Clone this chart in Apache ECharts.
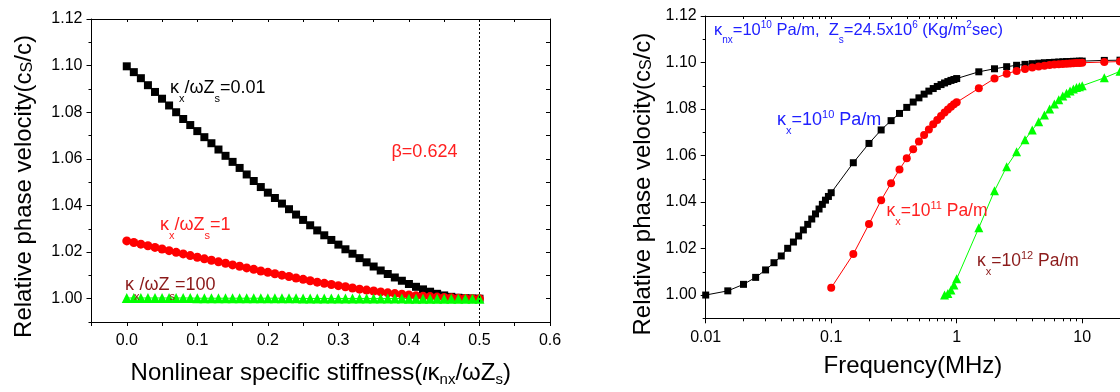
<!DOCTYPE html>
<html><head><meta charset="utf-8">
<script src="https://cdn.jsdelivr.net/npm/echarts@6/dist/echarts.min.js"></script>
<style>html,body{margin:0;padding:0;background:#fff;overflow:hidden}#c{width:1120px;height:392px}</style>
</head><body><div id="c"></div>
<script>
// ---------- left panel data ----------
const stiffness = [0.00,0.01,0.02,0.03,0.04,0.05,0.06,0.07,0.08,0.09,0.10,0.11,0.12,0.13,0.14,0.15,0.16,0.17,0.18,0.19,0.20,0.21,0.22,0.23,0.24,0.25,0.26,0.27,0.28,0.29,0.30,0.31,0.32,0.33,0.34,0.35,0.36,0.37,0.38,0.39,0.40,0.41,0.42,0.43,0.44,0.45,0.46,0.47,0.48,0.49,0.50];
const velRatio001 = [1.0997,1.0972,1.0946,1.0916,1.0887,1.0858,1.0829,1.0800,1.0771,1.0745,1.0719,1.0693,1.0667,1.0640,1.0613,1.0587,1.0561,1.0533,1.0505,1.0479,1.0455,1.0432,1.0408,1.0384,1.0361,1.0338,1.0315,1.0293,1.0272,1.0252,1.0232,1.0212,1.0193,1.0174,1.0156,1.0138,1.0121,1.0106,1.0091,1.0077,1.0063,1.0051,1.0040,1.0030,1.0021,1.0014,1.0008,1.0004,1.0002,1.0001,1.0000];
const velRatio1 = [1.0248,1.0241,1.0234,1.0227,1.0220,1.0213,1.0206,1.0199,1.0192,1.0185,1.0178,1.0171,1.0165,1.0158,1.0152,1.0145,1.0139,1.0132,1.0126,1.0119,1.0113,1.0107,1.0101,1.0095,1.0089,1.0083,1.0077,1.0071,1.0066,1.0061,1.0056,1.0051,1.0046,1.0041,1.0037,1.0033,1.0029,1.0025,1.0022,1.0019,1.0016,1.0013,1.0011,1.0009,1.0007,1.0005,1.0004,1.0002,1.0001,1.0000,1.0000];
const velRatio100 = [1.0003,1.0003,1.0003,1.0003,1.0003,1.0003,1.0003,1.0003,1.0003,1.0003,1.0002,1.0002,1.0002,1.0002,1.0002,1.0002,1.0002,1.0002,1.0002,1.0002,1.0002,1.0002,1.0002,1.0002,1.0002,1.0001,1.0001,1.0001,1.0001,1.0001,1.0001,1.0001,1.0001,1.0001,1.0001,1.0001,1.0001,1.0001,1.0001,1.0001,1.0000,1.0000,1.0000,1.0000,1.0000,1.0000,1.0000,1.0000,1.0000,1.0000,1.0000];
const stiffTicks = [0.0,0.1,0.2,0.3,0.4,0.5,0.6];
const velTicks = [1.00,1.02,1.04,1.06,1.08,1.10,1.12];
const velMinorTicks = [0.99,1.01,1.03,1.05,1.07,1.09,1.11];

// ---------- right panel data ----------
const freqK10 = [0.01,0.015,0.02,0.025,0.03,0.035,0.04,0.045,0.05,0.055,0.06,0.065,0.07,0.075,0.08,0.085,0.09,0.095,0.1,0.15,0.2,0.25,0.3,0.35,0.4,0.45,0.5,0.55,0.6,0.65,0.7,0.75,0.8,0.85,0.9,0.95,1.0,1.5,2,2.5,3,3.5,4,4.5,5,5.5,6,6.5,7,7.5,8,8.5,9,9.5,10,15,20];
const velK10 = [1.0000,1.0018,1.0046,1.0076,1.0108,1.0139,1.0168,1.0201,1.0228,1.0254,1.0280,1.0304,1.0327,1.0349,1.0370,1.0390,1.0408,1.0424,1.0440,1.0569,1.0652,1.0710,1.0750,1.0781,1.0807,1.0830,1.0848,1.0864,1.0877,1.0888,1.0897,1.0905,1.0912,1.0918,1.0923,1.0927,1.0931,1.0960,1.0973,1.0982,1.0988,1.0992,1.0995,1.0997,1.0999,1.1000,1.1001,1.1002,1.1003,1.1004,1.1004,1.1005,1.1005,1.1006,1.1006,1.1009,1.1010];
const freqK11 = [0.1,0.15,0.2,0.25,0.3,0.35,0.4,0.45,0.5,0.55,0.6,0.65,0.7,0.75,0.8,0.85,0.9,0.95,1.0,1.5,2,2.5,3,3.5,4,4.5,5,5.5,6,6.5,7,7.5,8,8.5,9,9.5,10,15,20];
const velK11 = [1.0031,1.0176,1.0305,1.0408,1.0481,1.0540,1.0588,1.0627,1.0660,1.0688,1.0712,1.0734,1.0753,1.0770,1.0785,1.0798,1.0810,1.0820,1.0829,1.0889,1.0931,1.0952,1.0964,1.0972,1.0978,1.0983,1.0986,1.0989,1.0991,1.0993,1.0994,1.0995,1.0996,1.0997,1.0998,1.0998,1.0999,1.1002,1.1004];
const freqK12 = [0.8,0.85,0.9,0.95,1.0,1.5,2,2.5,3,3.5,4,4.5,5,5.5,6,6.5,7,7.5,8,8.5,9,9.5,10,15,20];
const velK12 = [1.0000,1.0007,1.0022,1.0043,1.0070,1.0289,1.0448,1.0552,1.0616,1.0668,1.0710,1.0745,1.0774,1.0800,1.0822,1.0840,1.0856,1.0868,1.0878,1.0886,1.0892,1.0896,1.0900,1.0934,1.0962];
const freqTicks = [0.01,0.1,1,10];
const freqMinorTicks = [0.02,0.03,0.04,0.05,0.06,0.07,0.08,0.09,0.2,0.3,0.4,0.5,0.6,0.7,0.8,0.9,2,3,4,5,6,7,8,9,20];

const FONT = '"Liberation Sans", Arial, sans-serif';
const zip = (a, b) => a.map((v, i) => [v, b[i]]);
const line = { onZero: false, lineStyle: { color: '#000', width: 1 } };
const noLine = { show: false, onZero: false };
const noSplit = { show: false };

const nameRich = {
  a: { fontSize: 24, fontFamily: FONT, color: '#000' },
  i: { fontSize: 24, fontFamily: FONT, color: '#000', fontStyle: 'italic' },
  sb: { fontSize: 15, fontFamily: FONT, color: '#000', padding: [12, 0, 0, 0] },
  sbs: { fontSize: 16, fontFamily: FONT, color: '#000', padding: [6, 0, 0, 0] }
};
const yName = '{a|Relative phase velocity(c}{sbs|S}{a|/c)}';

function yAxesFor(gridIndex, withRight) {
  const axes = [
    { gridIndex, type: 'value', position: 'left', min: 0.99, max: 1.12,
      axisLine: line, splitLine: noSplit,
      axisTick: { show: true, inside: false, length: 5, lineStyle: { color: '#000' }, customValues: velTicks },
      axisLabel: { customValues: velTicks, margin: 9, fontSize: 16, fontFamily: FONT, color: '#000', formatter: v => v.toFixed(2) },
      name: yName, nameLocation: 'middle', nameRotate: 90,
      nameGap: gridIndex === 0 ? 55 : 50,
      nameTextStyle: { rich: nameRich, padding: [0, gridIndex === 0 ? 32 : 34, 0, 0] } },
    { gridIndex, type: 'value', position: 'left', min: 0.99, max: 1.12,
      axisLine: noLine, splitLine: noSplit, axisLabel: { show: false },
      axisTick: { show: true, inside: false, length: 3, lineStyle: { color: '#000' }, customValues: velMinorTicks } }
  ];
  if (withRight) axes.push({ gridIndex, type: 'value', position: 'right', min: 0.99, max: 1.12, interval: 0.01,
      axisLine: line, splitLine: noSplit, axisLabel: { show: false },
      axisTick: { show: true, inside: true, length: 4, lineStyle: { color: '#000' } } });
  return axes;
}

const ann = (x, y, color, text, size) => ({
  type: 'text', x, y, z: 100,
  style: {
    text, fill: color, align: 'left', verticalAlign: 'middle',
    rich: {
      n: { fontSize: size, fontFamily: FONT, fill: color },
      sb: { fontSize: Math.round(size * 0.62), fontFamily: FONT, fill: color, padding: [Math.round(size * 1.2), 0, 0, 0] },
      sp: { fontSize: Math.round(size * 0.62), fontFamily: FONT, fill: color, padding: [0, 0, Math.round(size * 0.6), 0] }
    }
  }
});

const chart = echarts.init(document.getElementById('c'), null, { renderer: 'canvas' });
chart.setOption({
  animation: false,
  backgroundColor: '#fff',
  grid: [
    { left: 91.5, top: 19, width: 458.5, height: 305 },
    { left: 705.7, top: 16, width: 421, height: 302.3 }
  ],
  xAxis: [
    { gridIndex: 0, type: 'value', position: 'bottom', min: -0.05, max: 0.6, interval: 0.05,
      axisLine: line, splitLine: noSplit,
      axisTick: { show: true, length: 4, lineStyle: { color: '#000' } },
      axisLabel: { customValues: stiffTicks, margin: 11, fontSize: 16, fontFamily: FONT, color: '#000', formatter: v => v.toFixed(1) },
      name: '{a|Nonlinear specific stiffness(}{i|ι}{a|κ}{sb|nx}{a|/ωZ}{sb|s}{a|)}',
      nameLocation: 'middle', nameGap: 38, nameTextStyle: { rich: nameRich } },
    { gridIndex: 0, type: 'value', position: 'top', min: -0.05, max: 0.6, interval: 0.05,
      axisLine: line, splitLine: noSplit, axisLabel: { show: false },
      axisTick: { show: true, inside: true, length: 3, lineStyle: { color: '#000' } } },
    { gridIndex: 1, type: 'log', logBase: 10, position: 'bottom', min: 0.01, max: 20,
      axisLine: line, splitLine: noSplit, minorTick: { show: false },
      axisTick: { show: true, length: 5, lineStyle: { color: '#000' }, customValues: freqTicks },
      axisLabel: { customValues: freqTicks, margin: 11, fontSize: 16, fontFamily: FONT, color: '#000', formatter: v => String(+v.toPrecision(3)) },
      name: 'Frequency(MHz)', nameLocation: 'middle', nameGap: 36,
      nameTextStyle: { fontSize: 24, fontFamily: FONT, color: '#000' } },
    { gridIndex: 1, type: 'log', logBase: 10, position: 'bottom', min: 0.01, max: 20,
      axisLine: noLine, splitLine: noSplit, axisLabel: { show: false },
      axisTick: { show: true, length: 3, lineStyle: { color: '#000' }, customValues: freqMinorTicks } },
    { gridIndex: 1, type: 'log', logBase: 10, position: 'top', min: 0.01, max: 20,
      axisLine: line, splitLine: noSplit, axisLabel: { show: false },
      axisTick: { show: true, inside: true, length: 3, lineStyle: { color: '#000' }, customValues: freqTicks.concat(freqMinorTicks) } }
  ],
  yAxis: yAxesFor(0, true).concat(yAxesFor(1, false)),
  series: [
    { type: 'line', xAxisIndex: 0, yAxisIndex: 0, data: zip(stiffness, velRatio001),
      symbol: 'rect', symbolSize: 8, showAllSymbol: true, itemStyle: { color: '#000' }, lineStyle: { color: '#000', width: 1 },
      markLine: { silent: true, symbol: ['none', 'none'], label: { show: false },
        lineStyle: { color: '#000', width: 1, type: [2, 2] }, data: [{ xAxis: 0.5 }] } },
    { type: 'line', xAxisIndex: 0, yAxisIndex: 0, data: zip(stiffness, velRatio1),
      symbol: 'circle', symbolSize: 9, showAllSymbol: true, itemStyle: { color: '#ff0000' }, lineStyle: { color: '#ff0000', width: 1 } },
    { type: 'line', xAxisIndex: 0, yAxisIndex: 0, data: zip(stiffness, velRatio100),
      symbol: 'triangle', symbolSize: 10, showAllSymbol: true, itemStyle: { color: '#00ff00' }, lineStyle: { color: '#00ff00', width: 1 } },
    { type: 'line', xAxisIndex: 2, yAxisIndex: 3, data: zip(freqK10, velK10),
      symbol: 'rect', symbolSize: 7, showAllSymbol: true, itemStyle: { color: '#000' }, lineStyle: { color: '#000', width: 1 } },
    { type: 'line', xAxisIndex: 2, yAxisIndex: 3, data: zip(freqK11, velK11),
      symbol: 'circle', symbolSize: 8, showAllSymbol: true, itemStyle: { color: '#ff0000' }, lineStyle: { color: '#ff0000', width: 1 } },
    { type: 'line', xAxisIndex: 2, yAxisIndex: 3, data: zip(freqK12, velK12),
      symbol: 'triangle', symbolSize: 9, showAllSymbol: true, itemStyle: { color: '#00ff00' }, lineStyle: { color: '#00ff00', width: 1 } }
  ],
  graphic: [
    ann(170, 88, '#000000', '{n|κ}{sb|x}{n|/ωZ}{sb|s}{n|=0.01}', 18),
    ann(160, 225, '#ff2020', '{n|κ}{sb|x}{n|/ωZ}{sb|s}{n|=1}', 18),
    ann(125, 285.5, '#8b1a1a', '{n|κ}{sb|x}{n|/ωZ}{sb|s}{n|=100}', 18),
    ann(391.5, 152, '#ff2020', '{n|β=0.624}', 18),
    ann(714, 30, '#2020ff', '{n|κ}{sb|nx}{n|=10}{sp|10}{n| Pa/m,  Z}{sb|s}{n|=24.5x10}{sp|6}{n| (Kg/m}{sp|2}{n|sec)}', 16.5),
    ann(777, 120, '#2020ff', '{n|κ}{sb|x}{n|=10}{sp|10}{n| Pa/m}', 18),
    ann(886.5, 211.5, '#ff2020', '{n|κ}{sb|x}{n|=10}{sp|11}{n| Pa/m}', 17.5),
    ann(977, 261.5, '#8b1a1a', '{n|κ}{sb|x}{n|=10}{sp|12}{n| Pa/m}', 17.5)
  ]
});
</script></body></html>
